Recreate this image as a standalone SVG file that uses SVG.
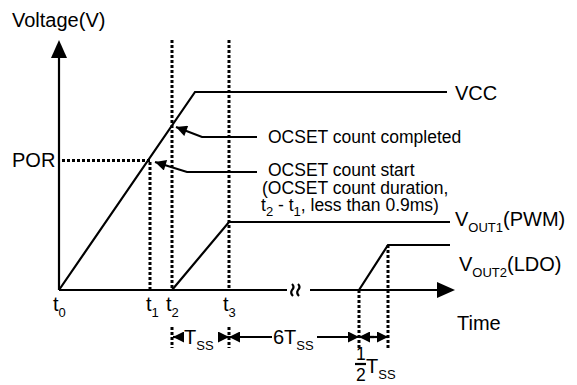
<svg xmlns="http://www.w3.org/2000/svg" width="577" height="385" viewBox="0 0 577 385">
<style>
text{font-family:"Liberation Sans",Arial,sans-serif;fill:#000}
.big{font-size:20px}
.mid{font-size:17.5px}
.sub{font-size:13px}
.ln{stroke:#000;stroke-width:2.2;fill:none}
.dot{stroke:#000;stroke-width:3;stroke-dasharray:3 2;fill:none}
.ah{fill:#000}
</style>
<defs>
<marker id="arr" viewBox="0 0 10 10" refX="10" refY="5" markerWidth="5.5" markerHeight="5" markerUnits="strokeWidth" orient="auto">
<path d="M0,0 L10,5 L0,10 z" class="ah"/>
</marker>
</defs>
<g id="axes">
<line class="ln" x1="59" y1="290" x2="59" y2="56"/>
<polygon class="ah" points="59,40 51,58 67,58"/>
<line class="ln" x1="59" y1="290" x2="287" y2="290"/>
<line class="ln" x1="310" y1="290" x2="440" y2="290"/>
<polygon class="ah" points="455,290 437,282 437,298"/>
<path class="ln" stroke-width="1.6" d="M292,284 q3,3 0,6 q-2,3 1,6 M298,284 q3,3 0,6 q-2,3 1,6"/>
</g>
<g id="guides">
<line class="dot" x1="62" y1="160.5" x2="150" y2="160.5"/>
<line class="dot" x1="150" y1="162" x2="150" y2="290"/>
<line class="dot" x1="172" y1="40" x2="172" y2="290"/>
<line class="dot" x1="172" y1="327" x2="172" y2="348"/>
<line class="dot" x1="229" y1="40" x2="229" y2="290"/>
<line class="dot" x1="229" y1="327" x2="229" y2="348"/>
<line class="dot" x1="359" y1="290" x2="359" y2="348"/>
<line class="dot" x1="388" y1="245" x2="388" y2="348"/>
</g>
<g id="curves">
<polyline class="ln" points="59,290 195,92 447,92"/>
<polyline class="ln" points="172,290 229,222 450,222"/>
<polyline class="ln" points="359,290 388,245 450,245"/>
</g>
<g id="connectors">
<polyline class="ln" stroke-width="2" points="257,137 202,137 176,127" marker-end="url(#arr)"/>
<polyline class="ln" stroke-width="2" points="257,172 187,172 155,162" marker-end="url(#arr)"/>
<line class="ln" stroke-width="2" x1="183" y1="337" x2="173" y2="337" marker-end="url(#arr)"/>
<line class="ln" stroke-width="2" x1="220" y1="337" x2="229" y2="337" marker-end="url(#arr)"/>
<line class="ln" stroke-width="2" x1="272" y1="337" x2="229" y2="337" marker-end="url(#arr)"/>
<line class="ln" stroke-width="2" x1="317" y1="337" x2="359" y2="337" marker-end="url(#arr)"/>
<line class="ln" stroke-width="2" x1="374" y1="337" x2="359" y2="337" marker-end="url(#arr)"/>
<line class="ln" stroke-width="2" x1="370" y1="337" x2="388" y2="337" marker-end="url(#arr)"/>
<line class="ln" stroke-width="1.6" x1="355" y1="364" x2="366" y2="364"/>
</g>
<g id="labels">
<text class="big" x="12" y="27">Voltage(V)</text>
<text class="big" x="455" y="100">VCC</text>
<text class="mid" x="268" y="143">OCSET count completed</text>
<text class="big" x="12" y="167">POR</text>
<text class="mid" x="268" y="176">OCSET count start</text>
<text class="mid" x="262" y="193.5">(OCSET count duration,</text>
<text class="mid" x="261" y="211">t<tspan class="sub" dy="5">2</tspan><tspan dy="-5"> - t</tspan><tspan class="sub" dy="5">1</tspan><tspan dy="-5">, less than 0.9ms)</tspan></text>
<text class="big" x="455" y="226">V<tspan class="sub" dy="6">OUT1</tspan><tspan dy="-6">(PWM)</tspan></text>
<text class="big" x="459" y="271">V<tspan class="sub" dy="6">OUT2</tspan><tspan dy="-6">(LDO)</tspan></text>
<text class="big" x="457" y="330">Time</text>
<text class="big" x="53" y="311">t<tspan class="sub" dy="6">0</tspan></text>
<text class="big" x="146" y="311">t<tspan class="sub" dy="6">1</tspan></text>
<text class="big" x="166" y="311">t<tspan class="sub" dy="6">2</tspan></text>
<text class="big" x="223" y="311">t<tspan class="sub" dy="6">3</tspan></text>
<text class="big" x="184" y="344">T<tspan class="sub" dy="6">SS</tspan></text>
<text class="big" x="273" y="344">6T<tspan class="sub" dy="6">SS</tspan></text>
<text class="mid" x="356" y="360">1</text>
<text class="mid" x="356" y="381">2</text>
<text class="big" x="366" y="373">T<tspan class="sub" dy="6">SS</tspan></text>
</g>
</svg>
